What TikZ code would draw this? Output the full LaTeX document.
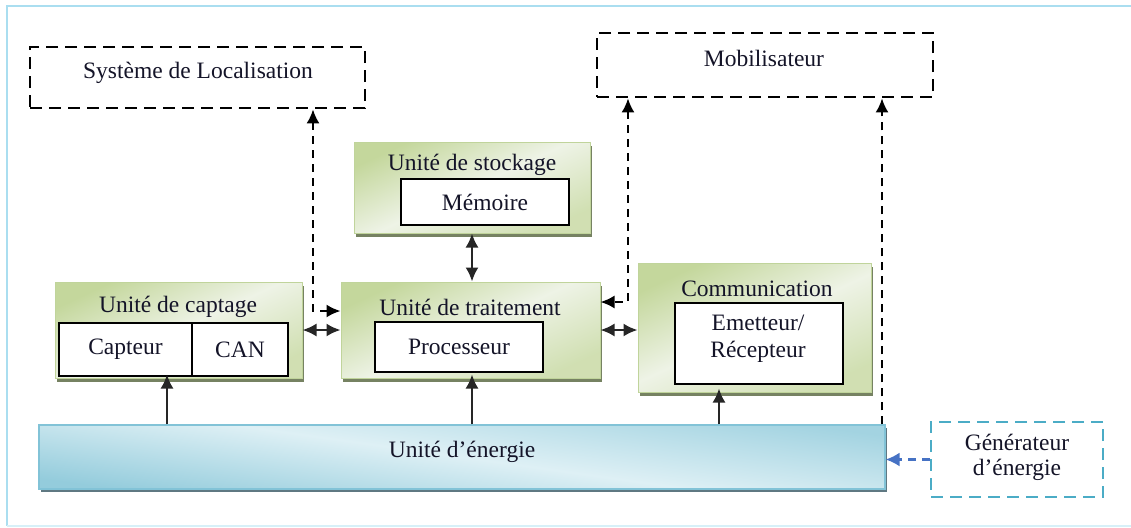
\documentclass[tikz,border=0pt]{standalone}
\usepackage{fontspec}
\setmainfont{Liberation Serif}
\usetikzlibrary{arrows.meta,shadows,calc}
\definecolor{frameblue}{RGB}{170,222,240}
\definecolor{framelight}{RGB}{215,240,248}
\definecolor{gborder}{RGB}{192,212,155}
\definecolor{gdark}{RGB}{196,215,156}
\definecolor{glight}{RGB}{238,243,230}
\definecolor{gshadow}{RGB}{118,130,98}
\definecolor{bdark}{RGB}{148,204,220}
\definecolor{blight}{RGB}{222,240,245}
\definecolor{bborder}{RGB}{130,195,215}
\definecolor{bshadow}{RGB}{95,120,130}
\definecolor{gendash}{RGB}{75,172,198}
\definecolor{genarrow}{RGB}{70,114,196}
\definecolor{textc}{RGB}{20,20,40}
\tikzset{
  blk/.tip={Latex[length=7pt,width=6.5pt]},
  bluetip/.tip={Latex[length=7pt,width=7pt]},
  unitbox/.style={rectangle, draw=gborder, line width=0.5pt, inner sep=0pt,
    top color=gdark, bottom color=gdark!70!glight, middle color=glight, shading angle=25,
    general shadow={shadow xshift=1.2pt, shadow yshift=-1.8pt, fill=gshadow}},
  energybox/.style={rectangle, draw=bborder, line width=0.6pt, inner sep=0pt,
    top color=bdark!80!blight, bottom color=bdark, middle color=blight, shading angle=-8,
    general shadow={shadow xshift=1.2pt, shadow yshift=-1.5pt, fill=bshadow}},
  innerbox/.style={rectangle, draw=black, line width=0.9pt, fill=white, inner sep=0pt, text=textc},
  extbox/.style={rectangle, draw=black, dash pattern=on 6pt off 3.5pt, line width=1.4pt, inner sep=0pt},
  genbox/.style={rectangle, draw=gendash, dash pattern=on 6pt off 3.5pt, line width=1.3pt, inner sep=0pt},
  label/.style={text=textc, inner sep=0pt},
  sconn/.style={draw=black!85, line width=1pt},
  dconn/.style={draw=black, line width=1pt, dash pattern=on 4pt off 3pt},
}
\begin{document}
\begin{tikzpicture}[x=0.5pt,y=-0.5pt,font=\fontsize{11.75}{14}\selectfont]
\useasboundingbox (0,0) rectangle (1131,527);
% frame
\draw[frameblue, line width=0.8pt] (1131,6) -- (7,6) -- (7,526);
\draw[framelight, line width=0.8pt] (7,526) -- (1131,526);

% external dashed boxes
\node[extbox, minimum width=167.5pt, minimum height=30.5pt] (loc) at (197.5,77.5) {};
\node[label] (loct) at (198,73) {Système de Localisation};
\node[extbox, minimum width=168pt, minimum height=32pt] (mob) at (765,65) {};
\node[label] (mobt) at (764,58) {Mobilisateur};

% storage unit
\node[unitbox, minimum width=118pt, minimum height=45.5pt] (stock) at (472,187.5) {};
\node[label] (stockt) at (472,165) {Unité de stockage};
\node[innerbox, minimum width=84pt, minimum height=23pt] (mem) at (485,202) {Mémoire};

% processing unit
\node[unitbox, minimum width=129.5pt, minimum height=48pt] (trait) at (470.5,330) {};
\node[label] (traitt) at (470,307) {Unité de traitement};
\node[innerbox, minimum width=84pt, minimum height=25pt] (proc) at (459,347) {Processeur};

% sensing unit
\node[unitbox, minimum width=123.5pt, minimum height=48pt] (capt) at (178.5,330) {};
\node[label] (captt) at (178,307) {Unité de captage};
\node[innerbox, minimum width=66.5pt, minimum height=26.5pt] (capteur) at (125.5,349.5) {Capteur};
\node[innerbox, minimum width=48pt, minimum height=26.5pt] (can) at (240,349.5) {CAN};

% communication unit
\node[unitbox, minimum width=116.5pt, minimum height=64.5pt] (comm) at (754.5,327.5) {};
\node[label] (commt) at (757,289) {Communication};
\node[innerbox, minimum width=84pt, minimum height=40.5pt] (emet) at (759,343.5) {};
\node[label, align=center, font=\fontsize{11.75}{13.5}\selectfont] (emett) at (758,338.5) {Emetteur/\\Récepteur};

% energy unit
\node[energybox, minimum width=423pt, minimum height=32pt] (energy) at (462,457) {};
\node[label] (energt) at (462,452) {Unité d’énergie};

% generator
\node[genbox, minimum width=86pt, minimum height=37.5pt] (gen) at (1017,459.5) {};
\node[label, align=center, font=\fontsize{11.75}{12.5}\selectfont] (gent) at (1017,457.5) {Générateur\\d’énergie};

% coordinates for connector routing
\coordinate (c1) at (313,311);
\coordinate (c2) at (628,302);
\coordinate (c3) at (882,0);
\coordinate (c4) at (167,0);
\coordinate (c5) at (472,0);
\coordinate (c6) at (719,0);

% dashed connectors
\draw[dconn, blk-blk] (loc.south -| c1) |- (trait.west |- c1);
\draw[dconn, blk-blk] (mob.south -| c2) |- (trait.east |- c2);
\draw[dconn, -blk] (energy.north -| c3) -- (mob.south -| c3);

% solid connectors
\draw[sconn, blk-blk] (stock.south -| c5) -- (trait.north -| c5);
\draw[sconn, blk-blk] (capt.east) -- (trait.west |- capt.east);
\draw[sconn, blk-blk] (trait.east) -- (comm.west |- trait.east);
\draw[sconn, -blk, shorten >=-2pt] (energy.north -| c4) -- (capt.south -| c4);
\draw[sconn, -blk, shorten >=-2pt] (energy.north -| c5) -- (trait.south -| c5);
\draw[sconn, -blk, shorten >=-2pt] (energy.north -| c6) -- (comm.south -| c6);

% generator to energy
\draw[genarrow, line width=1.1pt, dash pattern=on 4pt off 3pt, -bluetip] (gen.west) -- (energy.east |- gen.west);
\end{tikzpicture}
\end{document}
